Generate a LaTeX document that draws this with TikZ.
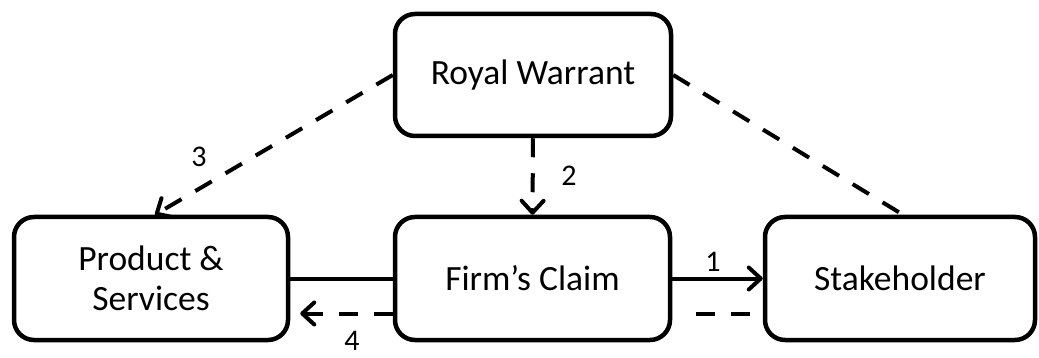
\documentclass[tikz,border=0pt]{standalone}
\usepackage{fontspec}
\setmainfont{Carlito}
\usetikzlibrary{arrows.meta}
\begin{document}
\begin{tikzpicture}[x=1pt,y=-1pt,
  box/.style={draw, line width=4.5pt, rounded corners=20pt, inner sep=0pt,
    align=center, font=\fontsize{35.5}{40}\selectfont},
  link/.style={line width=4pt},
  dashlink/.style={line width=4pt, dash pattern=on 19pt off 16pt},
  tip/.style={-{Straight Barb[length=12pt,width=22pt,round]}},
  num/.style={font=\fontsize{30}{32}\selectfont, inner sep=0pt}]
\useasboundingbox (0,0) rectangle (1039,358);

\node[box, minimum width=276pt, minimum height=122pt] (rw) at (533,75) {Royal Warrant};
\node[box, minimum width=274pt, minimum height=123pt] (ps) at (151,278.5) {Product \&\\Services};
\node[box, minimum width=275pt, minimum height=123pt] (fc) at (532.5,278.5) {Firm’s Claim};
\node[box, minimum width=270pt, minimum height=123pt] (sh) at (900,278.5) {Stakeholder};

% firm's claim to stakeholder, and the link back
\draw[link, tip] (fc.east) -- (sh.west);
\draw[dashlink, shorten <=13pt, shorten >=18pt] ([yshift=-35pt]sh.west) -- ([yshift=-35pt]fc.east);

% firm's claim and products
\draw[link] (ps.east) -- (fc.west);
\draw[dashlink, tip, shorten >=10pt] ([yshift=-35pt]fc.west) -- ([yshift=-35pt]ps.east);

% royal warrant links
\draw[dashlink, tip] (rw.south) -- (fc.north);
\draw[dashlink, tip] (rw.west) -- ([xshift=4pt]ps.north);
\draw[dashlink] (rw.east) -- ([xshift=3pt]sh.north);

\node[num] (n1) at (713,262) {1};
\node[num] (n2) at (569,176) {2};
\node[num] (n3) at (199,157) {3};
\node[num] (n4) at (352,341) {4};
\end{tikzpicture}
\end{document}
